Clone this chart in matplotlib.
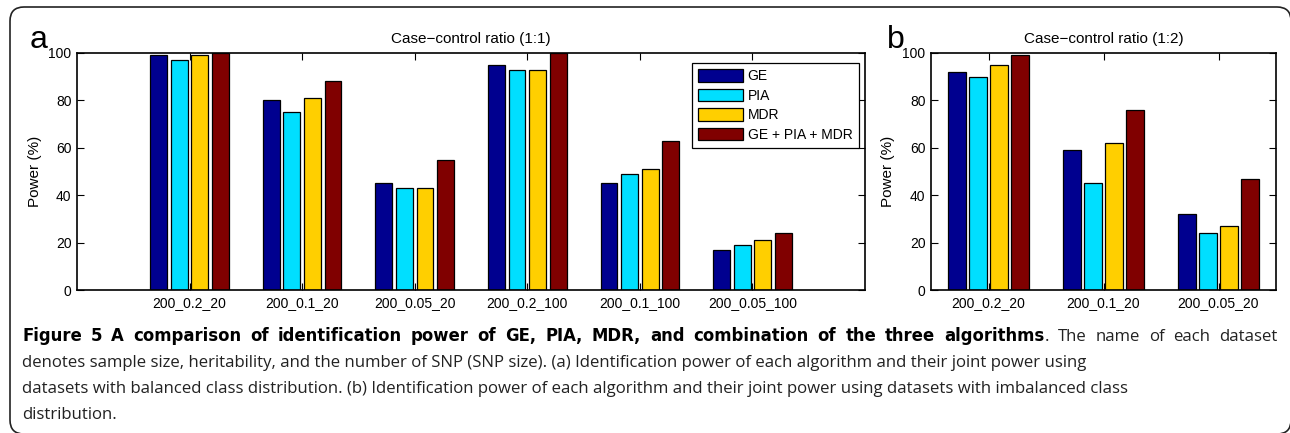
import numpy as np
import matplotlib
matplotlib.use("Agg")
import matplotlib.pyplot as plt
from matplotlib.patches import FancyBboxPatch
from matplotlib.transforms import IdentityTransform

plt.rcParams['font.family'] = ['Liberation Sans', 'DejaVu Sans']

methods = ['GE', 'PIA', 'MDR', 'GE + PIA + MDR']
colors = ['#00008F', '#00DFFF', '#FFCF00', '#800000']

cats_a = ['200_0.2_20', '200_0.1_20', '200_0.05_20', '200_0.2_100', '200_0.1_100', '200_0.05_100']
ge_a = [99, 80, 45, 95, 45, 17]
pia_a = [97, 75, 43, 93, 49, 19]
mdr_a = [99, 81, 43, 93, 51, 21]
all_a = [100, 88, 55, 100, 63, 24]

cats_b = ['200_0.2_20', '200_0.1_20', '200_0.05_20']
ge_b = [92, 59, 32]
pia_b = [90, 45, 24]
mdr_b = [95, 62, 27]
all_b = [99, 76, 47]

cap_bold = 'Figure 5 A comparison of identification power of GE, PIA, MDR, and combination of the three algorithms'
cap_rest = '. The name of each dataset'
cap_lines = ['denotes sample size, heritability, and the number of SNP (SNP size). (a) Identification power of each algorithm and their joint power using',
             'datasets with balanced class distribution. (b) Identification power of each algorithm and their joint power using datasets with imbalanced class',
             'distribution.']

W, H = 1290, 433
fig = plt.figure(figsize=(W / 100, H / 100), dpi=100)

def px(l, t, r, b):
    return [l / W, 1 - b / H, (r - l) / W, (b - t) / H]

ax_a = fig.add_axes(px(77, 53, 865, 290))
ax_b = fig.add_axes(px(931, 53, 1276, 290))

def draw(ax, cats, series, title, xlim, ylab_x):
    x = np.arange(1, len(cats) + 1)
    for j, vals in enumerate(series):
        ax.bar(x + (j - 1.5) * 0.183, vals, width=0.15, color=colors[j],
               edgecolor='black', linewidth=0.9, label=methods[j])
    ax.set_xlim(*xlim)
    ax.set_ylim(0, 100)
    ax.set_xticks(x)
    ax.set_xticklabels(cats, fontsize=10)
    ax.set_yticks(np.arange(0, 101, 20))
    ax.tick_params(axis='both', direction='in', top=True, right=True, length=5,
                   width=0.8, labelsize=10, pad=4)
    for s in ax.spines.values():
        s.set_linewidth(1.2)
    ax.set_title(title, fontsize=11, pad=7)
    ax.set_ylabel('Power (%)', fontsize=11)
    ax.yaxis.set_label_coords(ylab_x, 0.5)

draw(ax_a, cats_a, [ge_a, pia_a, mdr_a, all_a], 'Case\u2212control ratio (1:1)', (0, 7), -0.044)
draw(ax_b, cats_b, [ge_b, pia_b, mdr_b, all_b], 'Case\u2212control ratio (1:2)', (0.5, 3.5), -0.104)

leg = ax_a.legend(loc='upper right', bbox_to_anchor=(0.992, 0.958), fontsize=10,
                  frameon=True, fancybox=False, edgecolor='black', framealpha=1,
                  handlelength=3.2, handleheight=1.0, handletextpad=0.35,
                  labelspacing=0.4, borderpad=0.45, borderaxespad=0)
leg.get_frame().set_linewidth(0.9)

fig.text(30 / W, 1 - 48 / H, 'a', fontsize=23, va='baseline')
fig.text(887 / W, 1 - 48 / H, 'b', fontsize=23, va='baseline')

# caption, first line justified word by word
cap_font = ['Open Sans', 'DejaVu Sans']
bold_font = ['DejaVu Sans']
fs = 12.1
x0, x1 = 22, 1278
tokens = [(w, True, True) for w in cap_bold.split(' ')]
rest = cap_rest.split(' ')
tokens.append((rest[0], False, False))
tokens += [(w, False, True) for w in rest[1:]]

renderer = fig.canvas.get_renderer()
arts = []
for w, bold, gap in tokens:
    if bold:
        t = fig.text(0, 1 - 341 / H, w, fontsize=11.9, family=bold_font, va='baseline',
                     fontweight='bold', color='black')
    else:
        t = fig.text(0, 1 - 341 / H, w, fontsize=fs, family=cap_font, va='baseline',
                     color='#222222')
    arts.append((t, t.get_window_extent(renderer).width, gap))
ngaps = sum(1 for a in arts[1:] if a[2])
space = (x1 - x0 - sum(a[1] for a in arts)) / ngaps
xp = x0
for i, (t, wd, gap) in enumerate(arts):
    if i > 0 and gap:
        xp += space
    t.set_x(xp / W)
    xp += wd

for k, ln in enumerate(cap_lines):
    fig.text(x0 / W, 1 - (367 + 26 * k) / H, ln, fontsize=fs, family=cap_font,
             va='baseline', color='#222222')

frame = FancyBboxPatch((10, -1), 1281, H - 7 + 1, boxstyle='round,pad=0,rounding_size=14',
                       transform=IdentityTransform(), fill=False, edgecolor='#222222',
                       linewidth=1.2)
fig.add_artist(frame)

fig.savefig('out.png', dpi=100)
